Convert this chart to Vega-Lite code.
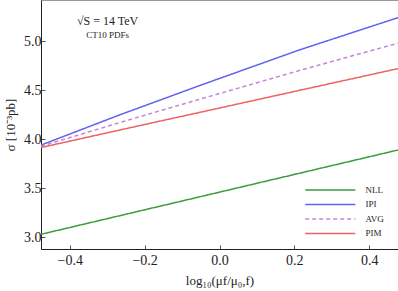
{
  "$schema": "https://vega.github.io/schema/vega-lite/v6.json",
  "width": 357,
  "height": 249,
  "autosize": "none",
  "padding": {"left": 41, "top": 0, "right": 0, "bottom": 42},
  "background": "white",
  "config": {
    "font": "Liberation Serif",
    "view": {"stroke": "#999", "strokeWidth": 1},
    "axis": {"grid": false, "domainColor": "#222", "tickColor": "#555", "labelColor": "#222", "titleColor": "#222", "titleFontWeight": "normal"}
  },
  "datasets": {
    "curves": [
      {"series": "NLL", "x": -0.477, "y": 3.03},
      {"series": "NLL", "x": 0.0, "y": 3.46},
      {"series": "NLL", "x": 0.477, "y": 3.89},
      {"series": "IPI", "x": -0.477, "y": 3.94},
      {"series": "IPI", "x": -0.269, "y": 4.245},
      {"series": "IPI", "x": -0.051, "y": 4.55},
      {"series": "IPI", "x": 0.213, "y": 4.91},
      {"series": "IPI", "x": 0.477, "y": 5.24},
      {"series": "AVG", "x": -0.477, "y": 3.928},
      {"series": "AVG", "x": -0.269, "y": 4.167},
      {"series": "AVG", "x": -0.051, "y": 4.41},
      {"series": "AVG", "x": 0.213, "y": 4.70},
      {"series": "AVG", "x": 0.477, "y": 4.98},
      {"series": "PIM", "x": -0.477, "y": 3.915},
      {"series": "PIM", "x": -0.2, "y": 4.15},
      {"series": "PIM", "x": 0.0, "y": 4.318},
      {"series": "PIM", "x": 0.2, "y": 4.487},
      {"series": "PIM", "x": 0.477, "y": 4.72}
    ],
    "legendRows": [
      {"series": "NLL", "x": 0.229, "x2": 0.363, "xt": 0.39, "y": 3.482},
      {"series": "IPI", "x": 0.229, "x2": 0.363, "xt": 0.39, "y": 3.334},
      {"series": "AVG", "x": 0.229, "x2": 0.363, "xt": 0.39, "y": 3.186},
      {"series": "PIM", "x": 0.229, "x2": 0.363, "xt": 0.39, "y": 3.039}
    ],
    "notes": [
      {"label": "√S = 14 TeV", "x": -0.299, "y": 5.206, "kind": "big"},
      {"label": "CT10 PDFs", "x": -0.299, "y": 5.063, "kind": "small"}
    ]
  },
  "layer": [
    {
      "data": {"name": "curves"},
      "mark": {"type": "line", "strokeWidth": 1.5, "clip": true},
      "encoding": {
        "x": {"field": "x", "type": "quantitative", "scale": {"domain": [-0.477, 0.477], "nice": false, "zero": false},
          "axis": {"values": [-0.4, -0.2, 0, 0.2, 0.4], "format": ".1f", "labelFont": "Liberation Serif", "labelFontSize": 14, "tickSize": -4, "labelPadding": 8, "title": "log₁₀(μf/μ₀,f)", "titleFont": "Liberation Serif", "titleFontSize": 13, "titlePadding": 7}},
        "y": {"field": "y", "type": "quantitative", "scale": {"domain": [2.88, 5.42], "nice": false, "zero": false},
          "axis": {"values": [3.0, 3.5, 4.0, 4.5, 5.0], "format": ".1f", "labelFont": "Liberation Serif", "labelFontSize": 14, "tickSize": -4, "labelPadding": 4, "title": "σ [10⁻³pb]", "titleFont": "Liberation Serif", "titleFontSize": 13, "titlePadding": 6}},
        "color": {"field": "series", "type": "nominal",
          "scale": {"domain": ["NLL", "IPI", "AVG", "PIM"], "range": ["#3c9c3c", "#6262ee", "#c486d6", "#ee6262"]},
          "legend": null},
        "strokeDash": {"field": "series", "type": "nominal",
          "scale": {"domain": ["NLL", "IPI", "AVG", "PIM"], "range": [[1, 0], [1, 0], [4, 3], [1, 0]]},
          "legend": null}
      }
    },
    {
      "data": {"name": "legendRows"},
      "mark": {"type": "rule", "strokeWidth": 1.5},
      "encoding": {
        "x": {"field": "x", "type": "quantitative"},
        "x2": {"field": "x2"},
        "y": {"field": "y", "type": "quantitative"},
        "color": {"field": "series", "type": "nominal", "legend": null},
        "strokeDash": {"field": "series", "type": "nominal", "legend": null}
      }
    },
    {
      "data": {"name": "legendRows"},
      "mark": {"type": "text", "align": "left", "baseline": "middle", "font": "Liberation Serif", "fontSize": 9, "color": "#222"},
      "encoding": {
        "x": {"field": "xt", "type": "quantitative"},
        "y": {"field": "y", "type": "quantitative"},
        "text": {"field": "series"}
      }
    },
    {
      "data": {"name": "notes"},
      "transform": [{"filter": "datum.kind == 'big'"}],
      "mark": {"type": "text", "font": "Liberation Serif", "fontSize": 12, "color": "#222"},
      "encoding": {"x": {"field": "x", "type": "quantitative"}, "y": {"field": "y", "type": "quantitative"}, "text": {"field": "label"}}
    },
    {
      "data": {"name": "notes"},
      "transform": [{"filter": "datum.kind == 'small'"}],
      "mark": {"type": "text", "font": "Liberation Serif", "fontSize": 9, "color": "#222"},
      "encoding": {"x": {"field": "x", "type": "quantitative"}, "y": {"field": "y", "type": "quantitative"}, "text": {"field": "label"}}
    }
  ]
}
